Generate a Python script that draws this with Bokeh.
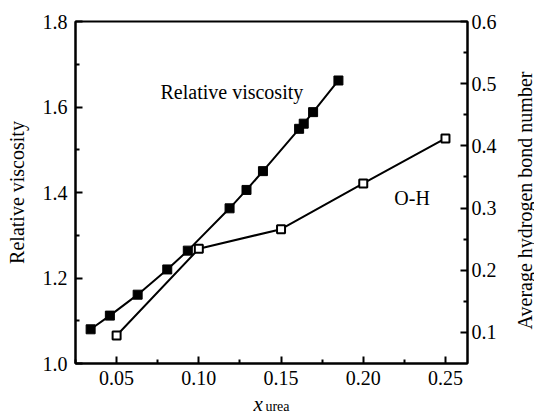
import math
from bokeh.plotting import figure
from bokeh.layouts import column, row
from bokeh.models import Range1d, LinearAxis, FixedTicker, PrintfTickFormatter, Label
from bokeh.embed import file_html
from bokeh.resources import INLINE

# Relative viscosity (left axis)
visc_x = [0.0342, 0.0459, 0.0628, 0.0808, 0.0933, 0.1187, 0.1290, 0.1390, 0.1610, 0.1638, 0.1695, 0.1849]
visc_y = [1.080, 1.112, 1.161, 1.220, 1.264, 1.363, 1.406, 1.450, 1.549, 1.561, 1.588, 1.662]

# Average O-H hydrogen bond number (right axis)
oh_x = [0.05, 0.10, 0.15, 0.20, 0.25]
oh_y = [0.095, 0.2345, 0.266, 0.3395, 0.412]

x_ticks = [0.05, 0.10, 0.15, 0.20, 0.25]
left_ticks = [1.0, 1.2, 1.4, 1.6, 1.8]
right_ticks = [0.1, 0.2, 0.3, 0.4, 0.5, 0.6]

FONT = "Liberation Serif"

xr = Range1d(0.025, 0.2634)
p = figure(width=504, height=393, output_backend="svg", toolbar_location=None,
           x_range=xr, y_range=Range1d(1.0, 1.8),
           min_border_left=75, min_border_right=37, min_border_top=21, min_border_bottom=30)
p.extra_y_ranges = {"hb": Range1d(0.05, 0.6)}
p.background_fill_color = "white"
p.border_fill_color = "white"
p.grid.visible = False
p.outline_line_color = "black"
p.outline_line_width = 2

def style(ax):
    ax.axis_line_width = 2
    ax.axis_line_color = "black"
    ax.major_tick_in = 7
    ax.major_tick_out = 0
    ax.minor_tick_in = 4
    ax.minor_tick_out = 0
    ax.major_tick_line_width = 2
    ax.minor_tick_line_width = 2
    ax.major_label_text_font = FONT
    ax.major_label_text_font_size = "20px"
    ax.major_label_text_color = "black"
    ax.axis_label_text_font = FONT
    ax.axis_label_text_font_size = "20px"
    ax.axis_label_text_font_style = "normal"
    ax.axis_label_text_color = "black"

xa = p.xaxis[0]
xa.ticker = FixedTicker(ticks=x_ticks, minor_ticks=[0.025, 0.075, 0.125, 0.175, 0.225])
xa.formatter = PrintfTickFormatter(format="%.2f")
xa.major_label_standoff = 7
style(xa)

ya = p.yaxis[0]
ya.ticker = FixedTicker(ticks=left_ticks, minor_ticks=[1.1, 1.3, 1.5, 1.7])
ya.formatter = PrintfTickFormatter(format="%.1f")
ya.axis_label = "Relative viscosity"
ya.major_label_standoff = 8
ya.axis_label_standoff = 12
style(ya)

ra = LinearAxis(y_range_name="hb")
ra.ticker = FixedTicker(ticks=right_ticks, minor_ticks=[0.15, 0.25, 0.35, 0.45, 0.55])
ra.formatter = PrintfTickFormatter(format="%.1f")
ra.major_label_standoff = 4
style(ra)
p.add_layout(ra, "right")

p.line(visc_x, visc_y, line_color="black", line_width=2)
p.scatter(visc_x, visc_y, marker="square", size=9, fill_color="black", line_color="black")

p.line(oh_x, oh_y, line_color="black", line_width=2, y_range_name="hb")
p.scatter(oh_x, oh_y, marker="square", size=8, fill_color="white", line_color="black",
          line_width=2, y_range_name="hb")

p.add_layout(Label(x=0.0767, y=1.636, text="Relative viscosity", text_font=FONT,
                   text_font_size="20px", text_color="black", text_baseline="alphabetic"))
p.add_layout(Label(x=0.2189, y=1.388, text="O-H", text_font=FONT,
                   text_font_size="20px", text_color="black", text_baseline="alphabetic"))

def blank(f):
    f.axis.visible = False
    f.grid.visible = False
    f.outline_line_color = None
    f.background_fill_color = "white"
    f.border_fill_color = "white"
    return f

# strip below the chart holding the x-axis title (x with subscript "urea")
s = blank(figure(width=504, height=19, output_backend="svg", toolbar_location=None,
                 x_range=xr, y_range=Range1d(0, 19),
                 min_border_left=75, min_border_right=37, min_border_top=0, min_border_bottom=0))
s.add_layout(Label(x=0.1332, y=9, text="x", text_font=FONT, text_font_style="italic",
                   text_font_size="21px", text_color="black", text_baseline="alphabetic"))
s.add_layout(Label(x=0.1405, y=6, text="urea", text_font=FONT,
                   text_font_size="14px", text_color="black", text_baseline="alphabetic"))

# strip to the right holding the right-axis title
r = blank(figure(width=30, height=412, output_backend="svg", toolbar_location=None,
                 x_range=Range1d(0, 30), y_range=Range1d(0, 412),
                 min_border_left=0, min_border_right=0, min_border_top=0, min_border_bottom=0))
r.add_layout(Label(x=20, y=212, text="Average hydrogen bond number", angle=math.pi / 2,
                   text_font=FONT, text_font_size="20px", text_color="black",
                   text_align="center", text_baseline="middle"))

layout = row(column(p, s, spacing=0), r, spacing=0)
open("out.html", "w").write(file_html(layout, INLINE))
